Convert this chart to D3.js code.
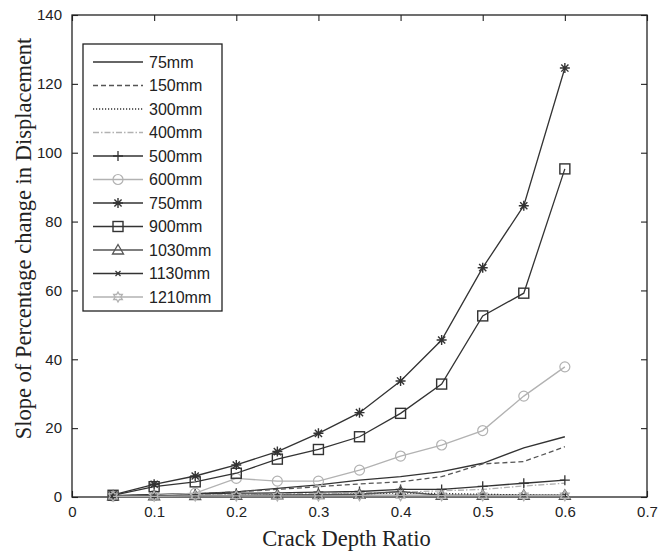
<!DOCTYPE html>
<html><head><meta charset="utf-8">
<script src="https://cdn.jsdelivr.net/npm/d3@7"></script>
<style>body{margin:0;background:#fff}svg{display:block}</style>
</head><body>
<script>
// ---- data ----
const crackRatio = [0.05,0.10,0.15,0.20,0.25,0.30,0.35,0.40,0.45,0.50,0.55,0.60];
const s75   = [0.3,0.7,1.0,1.5,2.5,3.5,4.9,5.9,7.4,9.8,14.3,17.5];
const s150  = [0.3,0.6,0.9,1.5,2.2,3.0,3.8,4.4,5.9,9.6,10.3,14.6];
const s300  = [0.2,0.3,0.4,0.5,0.6,0.7,0.9,1.2,1.0,0.8,0.6,0.5];
const s400  = [0.3,0.5,0.6,0.8,0.9,1.0,1.2,1.4,1.8,2.2,3.2,4.0];
const s500  = [0.4,0.7,0.9,1.1,1.2,1.4,1.6,2.2,2.2,3.1,4.0,4.9];
const s600  = [0.3,0.5,1.1,5.4,4.6,4.6,7.8,11.9,15.1,19.3,29.3,37.8];
const s750  = [0.6,3.7,6.1,9.3,13.2,18.5,24.5,33.7,45.6,66.6,84.6,124.6];
const s900  = [0.5,3.0,4.4,6.9,11.0,13.8,17.5,24.3,32.8,52.6,59.2,95.3];
const s1030 = [0.3,0.3,0.4,0.5,0.6,0.7,0.8,1.6,0.5,0.5,0.5,0.5];
const s1130 = [0.2,0.3,0.3,0.4,0.4,0.4,0.5,0.5,0.5,0.5,0.5,0.5];
const s1210 = [0.2,0.2,0.3,0.3,0.3,0.3,0.4,0.4,0.4,0.4,0.4,0.4];
const seriesNames = ["75mm","150mm","300mm","400mm","500mm","600mm","750mm","900mm","1030mm","1130mm","1210mm"];
const seriesValues = [s75,s150,s300,s400,s500,s600,s750,s900,s1030,s1130,s1210];
const xTicks = [0,0.1,0.2,0.3,0.4,0.5,0.6,0.7];
const yTicks = [0,20,40,60,80,100,120,140];
const xTitle = "Crack Depth Ratio";
const yTitle = "Slope of Percentage change in Displacement";

// ---- styles ----
const DARK = "#333", LIGHT = "#b2b2b2", MID = "#555";
const styles = [
  {c:DARK, dash:null, m:null},
  {c:MID, dash:"5,3", m:null},
  {c:DARK, dash:"1.2,1.8", m:null},
  {c:LIGHT, dash:"6,2,1.5,2", m:null},
  {c:DARK, dash:null, m:"plus"},
  {c:LIGHT, dash:null, m:"circle"},
  {c:DARK, dash:null, m:"star"},
  {c:DARK, dash:null, m:"square"},
  {c:MID, dash:null, m:"triangle"},
  {c:DARK, dash:null, m:"x"},
  {c:LIGHT, dash:null, m:"hex"}
];

const W = 658, H = 553;
const L = 72, R = 647, T = 15, B = 497;
const svg = d3.select("body").append("svg").attr("width",W).attr("height",H);
const xs = d3.scaleLinear().domain([0,0.7]).range([L,R]);
const ys = d3.scaleLinear().domain([0,140]).range([B,T]);

const fmtX = d => d===0 ? "0" : d3.format(".1f")(d);
const gBottom = svg.append("g").attr("transform",`translate(0,${B})`)
  .call(d3.axisBottom(xs).tickValues(xTicks).tickSize(-6).tickPadding(9).tickFormat(fmtX));
const gTop = svg.append("g").attr("transform",`translate(0,${T})`)
  .call(d3.axisTop(xs).tickValues(xTicks).tickSize(-6).tickFormat(""));
const gLeft = svg.append("g").attr("transform",`translate(${L},0)`)
  .call(d3.axisLeft(ys).tickValues(yTicks).tickSize(-6).tickPadding(10).tickFormat(d3.format("d")));
const gRight = svg.append("g").attr("transform",`translate(${R},0)`)
  .call(d3.axisRight(ys).tickValues(yTicks).tickSize(-6).tickFormat(""));
[gBottom,gTop,gLeft,gRight].forEach(g=>{
  g.select(".domain").remove();
  g.selectAll("line").attr("stroke","#222").attr("stroke-width",1.1);
  g.selectAll("text").attr("font-family","'Liberation Sans',Arial,sans-serif").attr("font-size",15).attr("fill","#222");
});
svg.append("rect").attr("x",L).attr("y",T).attr("width",R-L).attr("height",B-T)
  .attr("fill","none").attr("stroke","#222").attr("stroke-width",1.3);

function marker(g, type, cx, cy, color){
  const s = 5;
  if(!type) return;
  if(type==="circle"){
    g.append("circle").attr("cx",cx).attr("cy",cy).attr("r",s).attr("fill","none").attr("stroke",color).attr("stroke-width",1.2);
  } else if(type==="square"){
    g.append("rect").attr("x",cx-s).attr("y",cy-s).attr("width",2*s).attr("height",2*s).attr("fill","none").attr("stroke",color).attr("stroke-width",1.4);
  } else if(type==="triangle"){
    const p = d3.path(); p.moveTo(cx,cy-s-0.5); p.lineTo(cx+s+0.5,cy+s-1); p.lineTo(cx-s-0.5,cy+s-1); p.closePath();
    g.append("path").attr("d",p.toString()).attr("fill","none").attr("stroke",color).attr("stroke-width",1.3);
  } else if(type==="plus"){
    const p = d3.path(); p.moveTo(cx-s,cy); p.lineTo(cx+s,cy); p.moveTo(cx,cy-s); p.lineTo(cx,cy+s);
    g.append("path").attr("d",p.toString()).attr("stroke",color).attr("stroke-width",1.3);
  } else if(type==="star"){
    const p = d3.path(); p.moveTo(cx-s,cy); p.lineTo(cx+s,cy); p.moveTo(cx,cy-s); p.lineTo(cx,cy+s);
    const d = s*0.72; p.moveTo(cx-d,cy-d); p.lineTo(cx+d,cy+d); p.moveTo(cx-d,cy+d); p.lineTo(cx+d,cy-d);
    g.append("path").attr("d",p.toString()).attr("stroke",color).attr("stroke-width",1.4);
  } else if(type==="x"){
    const d = 2.5; const p = d3.path(); p.moveTo(cx-d,cy-d); p.lineTo(cx+d,cy+d); p.moveTo(cx-d,cy+d); p.lineTo(cx+d,cy-d);
    g.append("path").attr("d",p.toString()).attr("stroke",color).attr("stroke-width",1.2);
  } else if(type==="hex"){
    const p = d3.path();
    for(let i=0;i<12;i++){
      const r = i%2===0 ? s : s*0.58; const a = -Math.PI/2 + i*Math.PI/6;
      const px = cx + r*Math.cos(a), py = cy + r*Math.sin(a);
      if(i===0) p.moveTo(px,py); else p.lineTo(px,py);
    }
    p.closePath();
    g.append("path").attr("d",p.toString()).attr("fill","none").attr("stroke",color).attr("stroke-width",1.3);
  }
}

const line = d3.line().x((d,i)=>xs(crackRatio[i])).y(d=>ys(d));
const plot = svg.append("g");
seriesValues.forEach((vals,k)=>{
  const st = styles[k];
  const g = plot.append("g");
  g.append("path").attr("d",line(vals)).attr("fill","none").attr("stroke",st.c)
    .attr("stroke-width",1.3).attr("stroke-dasharray",st.dash);
  vals.forEach((v,i)=>marker(g, st.m, xs(crackRatio[i]), ys(v), st.c));
});

const lg = svg.append("g");
lg.append("rect").attr("x",83).attr("y",44).attr("width",139).attr("height",267)
  .attr("fill","#fff").attr("stroke","#222").attr("stroke-width",1.3);
seriesNames.forEach((n,k)=>{
  const st = styles[k];
  const cy = 62 + k*23.5;
  lg.append("line").attr("x1",93).attr("x2",143).attr("y1",cy).attr("y2",cy)
    .attr("stroke",st.c).attr("stroke-width",1.3).attr("stroke-dasharray",st.dash);
  marker(lg, st.m, 118, cy, st.c);
  lg.append("text").attr("x",149).attr("y",cy).attr("dy","0.36em")
    .attr("font-family","'Liberation Sans',Arial,sans-serif").attr("font-size",16).attr("fill","#222").text(n);
});

svg.append("text").attr("x",(L+R)/2-13).attr("y",546).attr("text-anchor","middle")
  .attr("font-family","'Liberation Serif','Times New Roman',serif").attr("font-size",22.5).attr("fill","#222").text(xTitle);
svg.append("text").attr("transform",`translate(31,${(37+440)/2}) rotate(-90)`).attr("text-anchor","middle")
  .attr("font-family","'Liberation Serif','Times New Roman',serif").attr("font-size",22.5).attr("fill","#222").text(yTitle);
</script>
</body></html>
